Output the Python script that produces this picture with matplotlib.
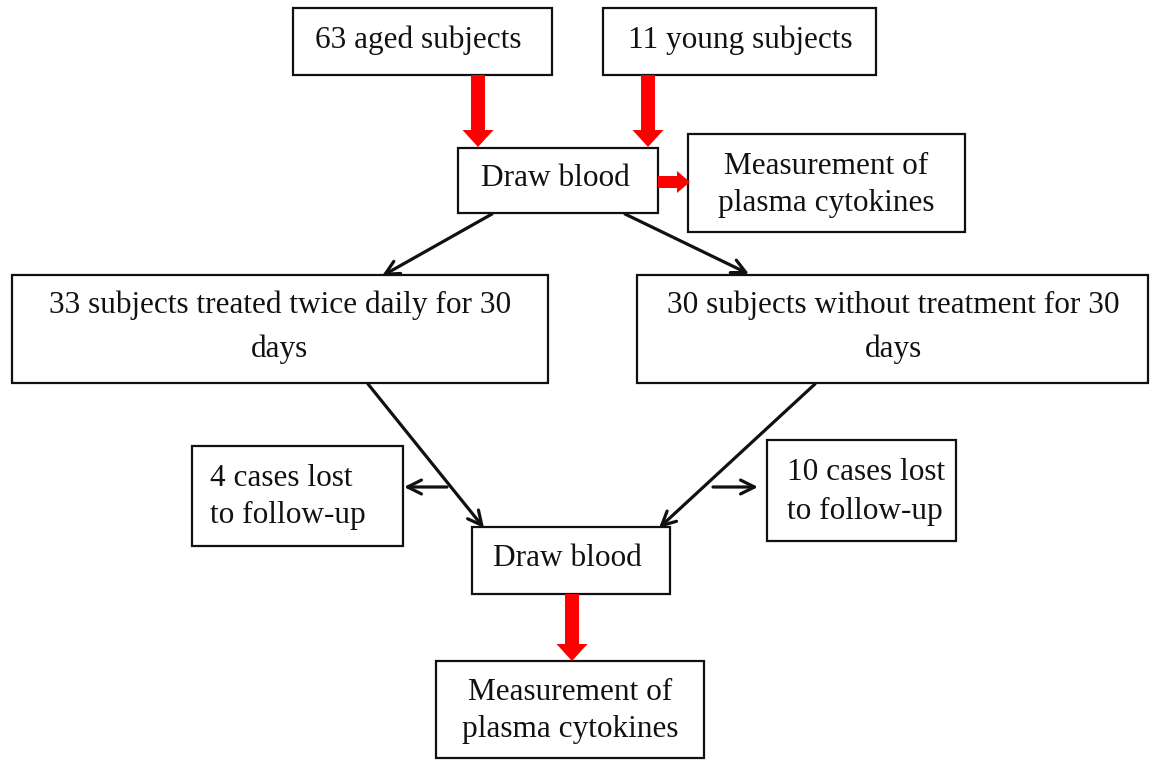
import matplotlib.pyplot as plt
from matplotlib.patches import Rectangle, FancyArrow

# box texts
labels = [
    "63 aged subjects",
    "11 young subjects",
    "Draw blood",
    "Measurement of\nplasma cytokines",
    "33 subjects treated twice daily for 30\ndays",
    "30 subjects without treatment for 30\ndays",
    "4 cases lost\nto follow-up",
    "10 cases lost\nto follow-up",
    "Draw blood",
    "Measurement of\nplasma cytokines",
]

# layout (pixels): x0, y0, x1, y1 of each box
boxes = [
    (293, 8, 552, 75),
    (603, 8, 876, 75),
    (458, 148, 658, 213),
    (688, 134, 965, 232),
    (12, 275, 548, 383),
    (637, 275, 1148, 383),
    (192, 446, 403, 546),
    (767, 440, 956, 541),
    (472, 527, 670, 594),
    (436, 661, 704, 758),
]
# text anchor x, y, alignment, line spacing
text_pos = [
    (418, 40, "center", 1.2),
    (740, 40, "center", 1.2),
    (555, 179, "center", 1.2),
    (826, 185, "center", 1.38),
    (280, 327, "center", 1.63),
    (893, 327, "center", 1.63),
    (210, 497, "left", 1.38),
    (787, 492, "left", 1.45),
    (567, 559, "center", 1.2),
    (570, 711, "center", 1.32),
]

black_arrows = [
    ((492, 214), (382, 276)),
    ((625, 214), (749, 274)),
    ((368, 384), (484, 528)),
    ((815, 384), (659, 528)),
    ((447, 487), (404, 487)),
    ((713, 487), (758, 487)),
]
# red arrows: x, y, dx, dy, shaft width, head width, head length
red_arrows = [
    (478, 75, 0, 72, 14, 31, 17),
    (648, 75, 0, 72, 14, 31, 17),
    (658, 182, 32, 0, 12, 22, 13),
    (572, 594, 0, 67, 14, 31, 17),
]

fig = plt.figure(figsize=(11.57, 7.6), dpi=100)
ax = fig.add_axes([0, 0, 1, 1])
ax.set_xlim(0, 1157)
ax.set_ylim(760, 0)
ax.axis("off")

for (x0, y0, x1, y1), lab, (tx, ty, ha, ls) in zip(boxes, labels, text_pos):
    ax.add_patch(Rectangle((x0, y0), x1 - x0, y1 - y0, fill=False,
                           edgecolor="#111111", lw=1.6))
    ax.text(tx, ty, lab, ha=ha, va="center", fontsize=22.5,
            family="Liberation Serif", color="#111111", linespacing=ls,
            multialignment=ha)

for (x0, y0), (x1, y1) in black_arrows:
    ax.annotate("", xy=(x1, y1), xytext=(x0, y0),
                arrowprops=dict(arrowstyle="->,head_length=1.0,head_width=0.5",
                                lw=2.3, color="#111111",
                                shrinkA=0, shrinkB=0))

for x, y, dx, dy, w, hw, hl in red_arrows:
    ax.add_patch(FancyArrow(x, y, dx, dy, width=w, head_width=hw,
                            head_length=hl, length_includes_head=True,
                            color="#ff0000", lw=0))

fig.savefig("out.png", dpi=100)
